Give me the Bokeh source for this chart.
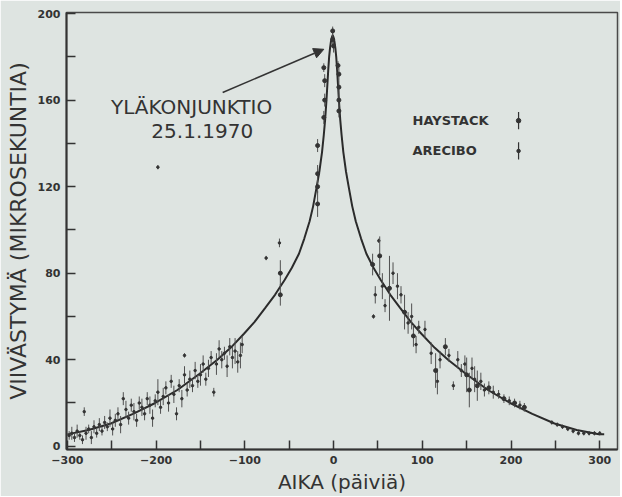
from bokeh.plotting import figure
from bokeh.models import Range1d, FixedTicker, Label, Arrow, NormalHead, ColumnDataSource
from bokeh.embed import file_html
from bokeh.resources import INLINE

# ---- data ----
curve_x = [-300, -276, -251, -226, -201, -176, -151, -131, -116, -101, -89, -77, -66, -55,
           -47, -39, -33, -27, -23, -19, -16, -13, -11, -9.5, -8, -7, -6, -5, -4, -3, -2,
           -1, 0, 1, 2, 3, 4, 5, 6, 7.5, 9, 11, 14, 17, 21, 25, 31, 37, 45, 53, 64, 75, 87,
           99, 114, 129, 149, 174, 199, 224, 249, 274, 299, 305]
curve_y = [5.5, 7.5, 10.5, 15, 20, 26, 33.5, 40, 45.5, 52, 57.5, 64, 70, 77,
           82.5, 89, 96, 104, 111, 120, 127, 136, 144, 151, 160, 167, 174, 180, 184, 187, 189,
           190, 189, 187, 184, 180, 174, 167, 160, 151, 144, 136, 127, 120, 111, 104, 96, 89, 82.5, 77, 70, 64, 57.5,
           52, 45.5, 40, 33.5, 26, 20, 15, 10.5, 7.5, 5.5, 5.5]

haystack_x = [-18, -18, -18, -18, -11, -10, -10, -11, -1, -1, 0, 5, 6, 6, 6, 6,
              -60, -60, 44, 52, 63, 80, 90, 115, 126, 150, 153, 162, 175, 192, 204, 215]
haystack_y = [139, 126, 112, 120, 175, 169, 160, 152, 188, 192, 185, 176, 172, 166, 160, 155,
              80, 70, 84, 88, 73, 62, 51, 35, 46, 33, 26, 28, 27, 22, 20, 18]
haystack_err = [3, 4, 6, 3, 2, 3, 3, 3, 3, 2, 3, 2, 3, 3, 3, 3,
                6, 5, 5, 9, 15, 8, 5, 8, 4, 8, 8, 7, 3, 2, 2, 2]

arecibo_x = [-298, -295, -292, -289, -286, -283, -281, -279, -276, -273, -270, -267, -264, -261,
             -258, -255, -252, -249, -246, -243, -240, -237, -234, -231, -228, -225, -222, -219,
             -216, -213, -210, -207, -204, -201, -198, -195, -192, -189, -186, -183, -180, -177,
             -174, -171, -168, -165, -162, -159, -156, -153, -150, -147, -144, -141, -138, -135,
             -132, -129, -126, -123, -120, -117, -114, -111, -108, -105, -103, -168, -198, -76, -61,
             45, 47, 51, 55, 58, 67, 72, 76, 84, 88, 93, 96, 103, 110, 117, 120, 130, 135, 140, 144,
             148, 156, 159, 166, 170, 180, 186, 198, 210, 246, 252, 258, 264, 270, 276, 282, 288,
             294, 300]
arecibo_y = [5, 6, 4, 7, 5, 3, 16, 6, 8, 4, 9, 6, 10, 7,
             11, 9, 13, 8, 12, 15, 10, 22, 17, 13, 19, 16, 12, 20,
             18, 15, 22, 19, 13, 21, 25, 18, 23, 27, 20, 30, 24, 15,
             28, 22, 33, 26, 31, 28, 35, 30, 33, 38, 31, 36, 41, 25,
             38, 45, 40, 43, 37, 46, 41, 44, 39, 42, 47, 42, 129, 87, 94,
             60, 70, 95, 74, 65, 80, 74, 70, 57, 60, 47, 55, 54, 43, 30, 40, 42, 28, 40, 35,
             38, 36, 31, 30, 26, 25, 24, 21, 19, 11, 10, 9, 8, 7, 6, 6, 6,
             6, 6]
arecibo_err = [2, 3, 2, 3, 2, 2, 2, 3, 2, 3, 3, 2, 3, 2,
               3, 2, 4, 3, 3, 3, 4, 3, 4, 3, 3, 4, 3, 3,
               4, 3, 3, 4, 4, 3, 6, 3, 4, 3, 4, 3, 4, 3,
               3, 4, 4, 3, 4, 3, 4, 3, 5, 4, 3, 4, 3, 2,
               5, 4, 4, 3, 5, 4, 5, 6, 5, 6, 4, 1, 1, 1, 2,
               1, 4, 1, 6, 3, 5, 6, 4, 5, 6, 4, 3, 4, 5, 6, 4, 3, 2, 4, 3,
               4, 5, 6, 4, 3, 3, 2, 2, 2, 1, 1, 1, 1, 1, 1, 1, 1,
               1, 1]

x_major = [-300, -200, -100, 0, 100, 200, 300]
x_minor = [-250, -150, -50, 50, 150, 250]
y_major = [0, 40, 80, 120, 160, 200]
y_minor = [20, 60, 100, 140, 180]

x_title = "AIKA (päiviä)"
y_title = "VIIVÄSTYMÄ (MIKROSEKUNTIA)"
note1 = "YLÄKONJUNKTIO"
note2 = "25.1.1970"
legend_names = ["HAYSTACK", "ARECIBO"]

# ---- styling ----
BG = "#dee4e1"
INK = "#333333"
FONT = "DejaVu Sans"

p = figure(width=620, height=496, output_backend="svg", toolbar_location=None,
           x_range=Range1d(-301, 320), y_range=Range1d(-1.5, 200.5),
           min_border_left=66, min_border_right=3, min_border_top=12, min_border_bottom=46)
p.background_fill_color = BG
p.border_fill_color = BG
p.outline_line_color = "#4a4a4a"
p.outline_line_width = 1.5
p.grid.visible = False

for ax in (p.xaxis[0], p.yaxis[0]):
    ax.axis_line_color = INK
    ax.axis_line_width = 2
    ax.major_tick_in = 9
    ax.major_tick_out = 0
    ax.minor_tick_in = 9
    ax.minor_tick_out = 0
    ax.major_tick_line_color = INK
    ax.minor_tick_line_color = INK
    ax.major_tick_line_width = 1.5
    ax.minor_tick_line_width = 1.5
    ax.major_label_text_font = FONT
    ax.major_label_text_font_style = "bold"
    ax.major_label_text_font_size = "11px"
    ax.major_label_text_color = INK
    ax.axis_label_text_font = FONT
    ax.axis_label_text_font_style = "normal"
    ax.axis_label_text_color = INK

p.xaxis.ticker = FixedTicker(ticks=x_major, minor_ticks=x_minor)
p.yaxis.ticker = FixedTicker(ticks=y_major, minor_ticks=y_minor)
p.xaxis.axis_label = x_title
p.yaxis.axis_label = y_title
p.xaxis.axis_label_text_font_size = "20px"
p.yaxis.axis_label_text_font_size = "22px"
p.xaxis.major_label_standoff = 6
p.yaxis.major_label_standoff = 6
p.xaxis.axis_label_standoff = 3
p.yaxis.axis_label_standoff = 4

# theoretical curve
p.line(curve_x, curve_y, line_color="#2b2b2b", line_width=2)

def add_series(xs, ys, es, size):
    src = ColumnDataSource(dict(x=xs, y=ys,
                                lo=[a - b for a, b in zip(ys, es)],
                                hi=[a + b for a, b in zip(ys, es)]))
    p.segment(x0="x", y0="lo", x1="x", y1="hi", source=src, line_color="#505050", line_width=1)
    p.scatter(x="x", y="y", source=src, size=size, marker="circle",
              fill_color="#333333", line_color="#333333")

add_series(arecibo_x, arecibo_y, arecibo_err, 2.5)
add_series(haystack_x, haystack_y, haystack_err, 4)

# annotation
p.add_layout(Label(x=-160, y=157, text=note1, text_align="center", text_baseline="middle",
                   text_font=FONT, text_font_size="20px", text_color=INK))
p.add_layout(Label(x=-148, y=145.5, text=note2, text_align="center", text_baseline="middle",
                   text_font=FONT, text_font_size="20px", text_color=INK))
p.add_layout(Arrow(x_start=-125, y_start=163.5, x_end=-11, y_end=183.5,
                   line_color=INK, line_width=1.5,
                   end=NormalHead(size=10, fill_color=INK, line_color=INK)))

# legend (label on the left, key on the right, as in the original)
leg_y = [150.5, 136.5]
for name, ly in zip(legend_names, leg_y):
    p.add_layout(Label(x=89, y=ly, text=name, text_align="left", text_baseline="middle",
                       text_font=FONT, text_font_size="13px", text_font_style="bold",
                       text_color=INK))
p.segment(x0=[208.5, 208.5], y0=[146.5, 132.5], x1=[208.5, 208.5], y1=[154.5, 140.5],
          line_color=INK, line_width=1.2)
p.scatter(x=[208.5, 208.5], y=[150.5, 136.5], size=[4.5, 3.5], marker="circle",
          fill_color=INK, line_color=INK)

open("out.html", "w").write(file_html(p, INLINE))
